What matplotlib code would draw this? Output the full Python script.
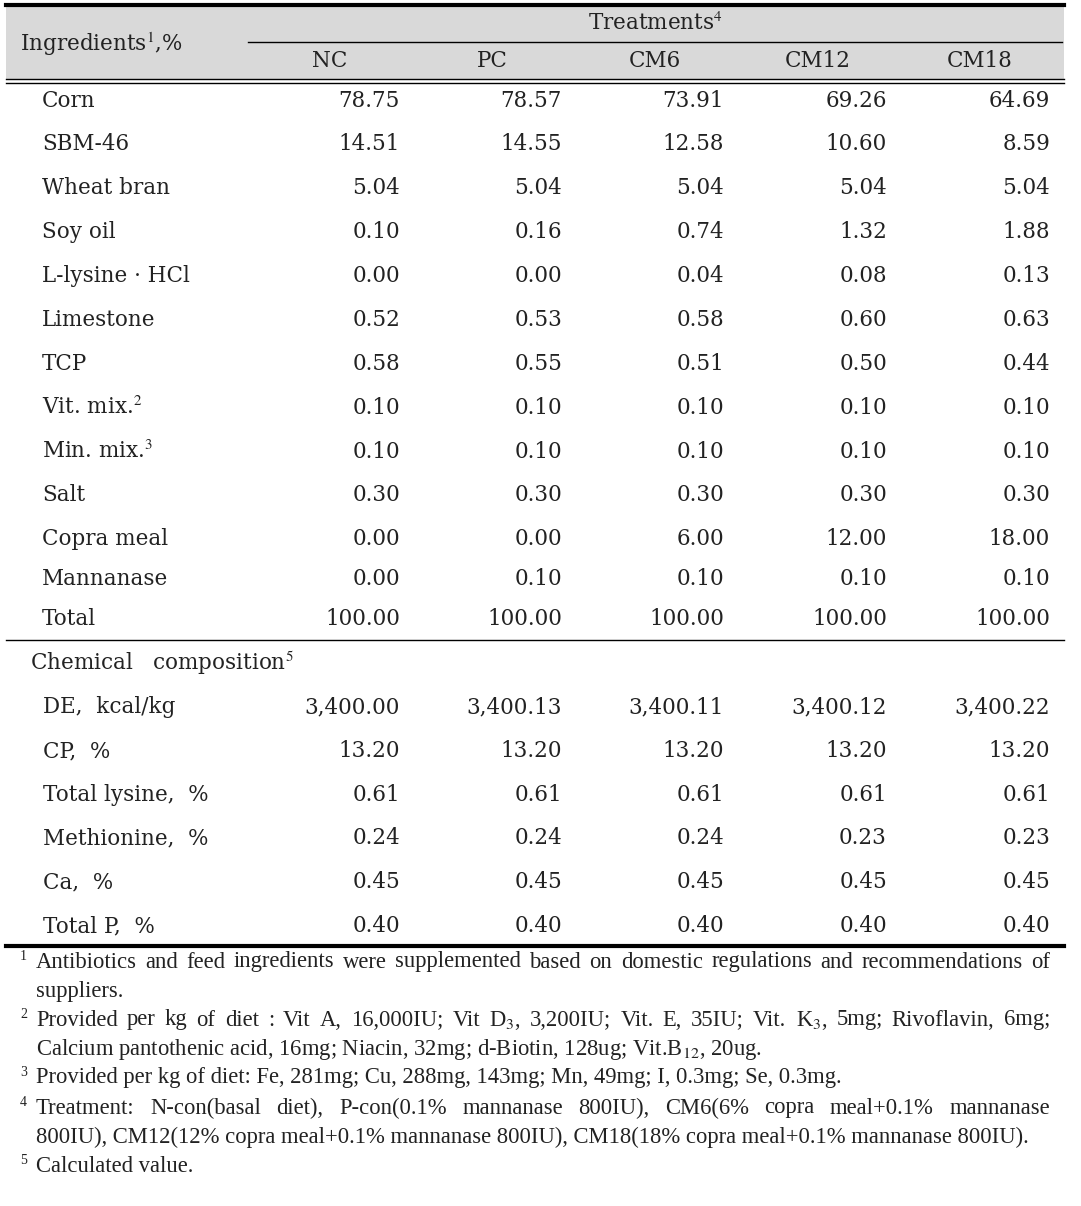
import matplotlib.pyplot as plt
import matplotlib as mpl

mpl.rcParams['mathtext.fontset'] = 'stix'

# data
treatments = ['NC', 'PC', 'CM6', 'CM12', 'CM18']
ingredients = ['Corn', 'SBM-46', 'Wheat bran', 'Soy oil', 'L-lysine · HCl',
               'Limestone', 'TCP', 'Vit. mix.$^{2}$', 'Min. mix.$^{3}$',
               'Salt', 'Copra meal', 'Mannanase', 'Total']
nc = [78.75, 14.51, 5.04, 0.10, 0.00, 0.52, 0.58, 0.10, 0.10, 0.30, 0.00, 0.00, 100.00]
pc = [78.57, 14.55, 5.04, 0.16, 0.00, 0.53, 0.55, 0.10, 0.10, 0.30, 0.00, 0.10, 100.00]
cm6 = [73.91, 12.58, 5.04, 0.74, 0.04, 0.58, 0.51, 0.10, 0.10, 0.30, 6.00, 0.10, 100.00]
cm12 = [69.26, 10.60, 5.04, 1.32, 0.08, 0.60, 0.50, 0.10, 0.10, 0.30, 12.00, 0.10, 100.00]
cm18 = [64.69, 8.59, 5.04, 1.88, 0.13, 0.63, 0.44, 0.10, 0.10, 0.30, 18.00, 0.10, 100.00]

chem = ['DE,  kcal/kg', 'CP,  %', 'Total lysine,  %', 'Methionine,  %', 'Ca,  %', 'Total P,  %']
chem_nc = [3400.00, 13.20, 0.61, 0.24, 0.45, 0.40]
chem_pc = [3400.13, 13.20, 0.61, 0.24, 0.45, 0.40]
chem_cm6 = [3400.11, 13.20, 0.61, 0.24, 0.45, 0.40]
chem_cm12 = [3400.12, 13.20, 0.61, 0.23, 0.45, 0.40]
chem_cm18 = [3400.22, 13.20, 0.61, 0.23, 0.45, 0.40]

# (mark, text, justified)
footnotes = [
    ('1', 'Antibiotics and feed ingredients were supplemented based on domestic regulations and recommendations of', True),
    ('', 'suppliers.', False),
    ('2', 'Provided per kg of diet : Vit A, 16,000IU; Vit D$_3$, 3,200IU; Vit. E, 35IU; Vit. K$_3$, 5mg; Rivoflavin, 6mg;', True),
    ('', 'Calcium pantothenic acid, 16mg; Niacin, 32mg; d-Biotin, 128ug; Vit.B$_{12}$, 20ug.', False),
    ('3', 'Provided per kg of diet: Fe, 281mg; Cu, 288mg, 143mg; Mn, 49mg; I, 0.3mg; Se, 0.3mg.', False),
    ('4', 'Treatment: N-con(basal diet), P-con(0.1% mannanase 800IU), CM6(6% copra meal+0.1% mannanase', True),
    ('', '800IU), CM12(12% copra meal+0.1% mannanase 800IU), CM18(18% copra meal+0.1% mannanase 800IU).', False),
    ('5', 'Calculated value.', False),
]

fig = plt.figure(figsize=(10.81, 12.06), dpi=100)
ax = fig.add_axes([0, 0, 1, 1])
ax.set_xlim(0, 1081)
ax.set_ylim(1206, 0)
ax.axis('off')

font = dict(family='DejaVu Serif', size=15.5, color='#222222')
col_right = [400, 562, 724, 887, 1050]
col_head = [330, 492, 655, 818, 980]

# header
ax.fill_between([6, 1064], 6, 79, color='#d9d9d9', lw=0)
ax.plot([6, 1064], [5, 5], color='black', lw=3)
ax.plot([248, 1062], [42, 42], color='black', lw=1)
ax.plot([6, 1064], [79, 79], color='black', lw=1)
ax.plot([6, 1064], [83, 83], color='black', lw=1)
ax.text(20, 44, 'Ingredients$^{1}$,%', ha='left', va='center', **font)
ax.text(655, 24, 'Treatments$^{4}$', ha='center', va='center', **font)
for x, t in zip(col_head, treatments):
    ax.text(x, 61, t, ha='center', va='center', **font)

# ingredient rows
row_y = [101, 144, 188, 232, 276, 320, 364, 408, 452, 495, 539, 579, 619]
cols = [nc, pc, cm6, cm12, cm18]
for i, (name, y) in enumerate(zip(ingredients, row_y)):
    ax.text(42, y, name, ha='left', va='center', **font)
    for x, col in zip(col_right, cols):
        ax.text(x, y, '{:,.2f}'.format(col[i]), ha='right', va='center', **font)

ax.plot([6, 1064], [640, 640], color='black', lw=1)
ax.text(30, 663, 'Chemical   composition$^{5}$', ha='left', va='center', **font)

chem_y = [707, 751, 795, 838, 882, 926]
ccols = [chem_nc, chem_pc, chem_cm6, chem_cm12, chem_cm18]
for i, (name, y) in enumerate(zip(chem, chem_y)):
    ax.text(43, y, name, ha='left', va='center', **font)
    for x, col in zip(col_right, ccols):
        ax.text(x, y, '{:,.2f}'.format(col[i]), ha='right', va='center', **font)

ax.plot([6, 1064], [946, 946], color='black', lw=3)

# footnotes
foot_y = [962, 991, 1020, 1049, 1078, 1108, 1137, 1166]
ffont = dict(family='Liberation Serif', size=16.3, color='#222222')
renderer = fig.canvas.get_renderer()
x0, x1 = 36, 1050
for (mark, txt, just), y in zip(footnotes, foot_y):
    if mark:
        ax.text(20, y - 6, mark, ha='left', va='center', family='Liberation Serif', size=10, color='#222222')
    if not just:
        ax.text(x0, y, txt, ha='left', va='center', **ffont)
        continue
    # justified line: spread the words over the full width
    words = txt.split(' ')
    arts = [ax.text(0, y, w, ha='left', va='center', **ffont) for w in words]
    widths = [a.get_window_extent(renderer).width for a in arts]
    gap = (x1 - x0 - sum(widths)) / (len(words) - 1)
    x = x0
    for a, w in zip(arts, widths):
        a.set_x(x)
        x += w + gap

fig.savefig('out.png', dpi=100)
